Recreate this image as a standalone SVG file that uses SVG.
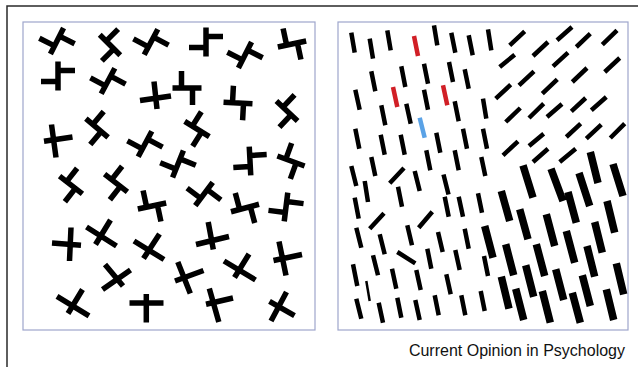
<svg xmlns="http://www.w3.org/2000/svg" width="638" height="367" viewBox="0 0 638 367">
<style>
.frame{fill:none;stroke:#2a2a2a;stroke-width:1.5}
.panel{fill:#fff;stroke:#9ea6cc;stroke-width:1.2}
.k{fill:none;stroke:#000;stroke-width:5.5;stroke-linecap:butt}
.t{fill:none;stroke:#000;stroke-width:4.5}
.n{fill:none;stroke:#000;stroke-width:2.5}
.w{fill:none;stroke:#000;stroke-width:7.5}
.r{fill:none;stroke:#d11f26;stroke-width:4.5}
.b{fill:none;stroke:#5aa2e6;stroke-width:4.5}
.cap{font-family:"Liberation Sans",Arial,sans-serif;font-size:16px;fill:#111}
</style>
<defs>
<path id="z" class="k" d="M-14.5,0H14.5M-5.5,0V-17M5.5,0V17"/>
</defs>
<rect width="638" height="367" fill="#fff"/>
<path class="frame" d="M7,367V6H638"/>
<rect class="panel" x="23" y="22" width="292" height="308"/>
<rect class="panel" x="338" y="22" width="290" height="308"/>
<g id="left-panel">
<use href="#z" transform="translate(57,41) rotate(117)"/>
<use href="#z" transform="translate(110,45) rotate(45)"/>
<use href="#z" transform="translate(151,42) rotate(118)"/>
<use href="#z" transform="translate(206,42) rotate(90)"/>
<use href="#z" transform="translate(245,55) rotate(117)"/>
<use href="#z" transform="translate(292,44) rotate(-12)"/>
<use href="#z" transform="translate(58,76) rotate(90)"/>
<use href="#z" transform="translate(108,81) rotate(118)"/>
<use href="#z" transform="translate(187,88) rotate(0)"/>
<use href="#z" transform="translate(238,103) rotate(3)"/>
<use href="#z" transform="translate(287,111) rotate(43)"/>
<use href="#z" transform="translate(97,128) rotate(40)"/>
<use href="#z" transform="translate(145,144) rotate(118)"/>
<use href="#z" transform="translate(197,129) rotate(32)"/>
<use href="#z" transform="translate(250,161) rotate(87)"/>
<use href="#z" transform="translate(291,161) rotate(20)"/>
<use href="#z" transform="translate(178,164) rotate(112)"/>
<use href="#z" transform="translate(71,185) rotate(38)"/>
<use href="#z" transform="translate(116,183) rotate(38)"/>
<use href="#z" transform="translate(152,206) rotate(-12)"/>
<use href="#z" transform="translate(204,194) rotate(127)"/>
<use href="#z" transform="translate(245,208) rotate(-15)"/>
<use href="#z" transform="translate(286,207) rotate(97)"/>
<path class="k" d="M51.5,124.5L56,157.5M44,141.3L72.5,137"/>
<path class="k" d="M154,81.5L157,109M140,100.5L171,96"/>
<path class="k" d="M71,227.5L69.5,261M52,243L81,245.3"/>
<path class="k" d="M110.5,220L95.5,244.5M86.5,227L116.5,246"/>
<path class="k" d="M159.5,234L143.5,258.5M134,241L164,259.5"/>
<path class="k" d="M208.2,222L213.3,249.5M196,244.5L229,236.5"/>
<path class="k" d="M249,254L234.5,277.5M224,261L255.5,280"/>
<path class="k" d="M279,241.5L286,275.5M273.5,260.5L302,254.5"/>
<path class="k" d="M105,264.5L123,286M130.5,270L102.5,289.5"/>
<path class="k" d="M177.8,262L190.3,293.5M175,281L203.5,270.5"/>
<path class="k" d="M82.5,289.5L68,313.5M57,296.3L89,315.8"/>
<path class="k" d="M146.3,294L146.3,322.5M129.5,303H163.5"/>
<path class="k" d="M209.3,288.5L218.8,322M206,304.3L233,298"/>
<path class="k" d="M286.5,292L271,321M269.5,301.3L294.5,315.7"/>
</g>
<g id="right-panel">
<path class="t" d="M351.3,32.7L354.7,52.7M369.7,38.7L373,58.7M387.3,30.3L390.7,50.3M434,25.3L437.3,45.3M451.3,32.7L455.3,52.7M468.7,35.3L472.7,55.3M488,29.3L491.3,50.3M371.3,71.3L375.3,91.3M401.3,66.3L405.3,87M424,63.7L428,83.7M449,62L453,82M464.7,69.3L468.7,88.7M355.3,89.7L359.7,109.7M424,89.7L428,109.7M483,98.7L486.3,118.7M381.3,105.3L385.3,125.3M406.3,103.7L410.7,123.7M454.7,101.3L458.7,121.3M355.3,128.7L359.3,148.7M380.7,134.7L384.7,154.7M400.7,134.7L404.7,154.7M436.3,132.7L440.3,152.7M463,128.7L467,148.7M483,128.7L487,148.7M371.3,157L375.3,176M426.3,150.3L430.3,170.3M454.7,150.3L458.7,170.3M481.3,157L485.3,176M351.3,166L356.3,186M414.7,171L419.7,191M443.5,174.5L448.5,194.5M364.7,181L368,202M398,186.7L402,206.7M444.7,196.7L448.7,216.7M458.7,196.7L463,216.7M478,193.3L482,212.7M354.7,197.7L358.7,218.7M356.3,227.7L361.3,247.7M379.7,234.3L384.7,254.3M407.3,225.3L412,245.3M438,232L442.7,252M464.7,228.7L468.7,248.7M373,255.3L378,275.3M427.3,248.7L431.3,268.7M455.3,250L459.7,270M484,256L488,276M353,264.3L357.3,286M392,268.7L396.3,288.7M416.3,270L420.7,290M446.3,274.3L450.7,294.3M356.3,298.7L361.3,318.7M378.7,302.7L383,322.7M397.3,297.7L401.3,317.7M415.3,300L419.7,320M434.7,295.3L438.7,315.3M461.3,295.3L465.3,315.3M480.7,291L484.7,311"/>
<path class="t" d="M389.7,183.3L404,168M369.7,228.7L384,213.3M418.7,227.7L432.3,211.7M397.3,252L415.3,263.3"/>
<path class="n" d="M366.3,281L369.7,301"/>
<path class="r" d="M414,36L418,56M393,87L397.3,107M443,85.3L447.3,105.3"/>
<path class="b" d="M419.7,117.7L424.7,137.7"/>
<path class="t" d="M509.7,45.3L524.7,31.3M557,40.3L572,27M576.3,47L590.3,33.7M602.3,44.7L617,30.3M533,56L548,42M499.7,67L514.7,54.7M553,66.3L568,52.7M604.7,72L619.7,58M519,85.3L534,71.3M572.3,82L587,68M495.7,98.7L510.7,84.7M542.3,93.7L557.3,79.3M505.7,122L520.3,108M529,118L543.7,103.7M547,117L562,104M571.3,111.3L585.7,98M591.3,110.3L606.3,97M566.3,137L580.7,123.7M586.3,138.7L601.3,124.7M610.3,138L624.7,123.7M503,155.3L518,141.3M529,146L543.7,133.7M533,162L548,148.7M559.7,162L575.7,148.7"/>
<path class="w" d="M523,165.3L533,197.7M551,168.7L563,201M590.3,152L598,183M579,173L589.7,206M613,164L623,196M501.3,191L509.7,221M519.7,209.3L528,239.3M568,192L576.3,222.7M546.3,214.3L554.7,246M607,201L614.7,232.7M484.7,226L493,257.7M594.7,222L602.3,252.7M566.3,231L574.7,262.7M505.7,244.3L513.7,275.3M536.3,244.3L544.7,276M587,246L594.7,276.7M616.3,263.3L623.7,294.3M525.7,265.3L533.7,296.7M555.7,269.3L563.7,300M582.3,275.3L590.3,306M501.3,276.7L509,308.7M515.7,288.7L523.7,320M542.3,291L550.3,322.7M572.3,292.7L580.3,322.7M606.3,289.3L613.7,320"/>
</g>
<text class="cap" x="625" y="356" text-anchor="end">Current Opinion in Psychology</text>
</svg>
